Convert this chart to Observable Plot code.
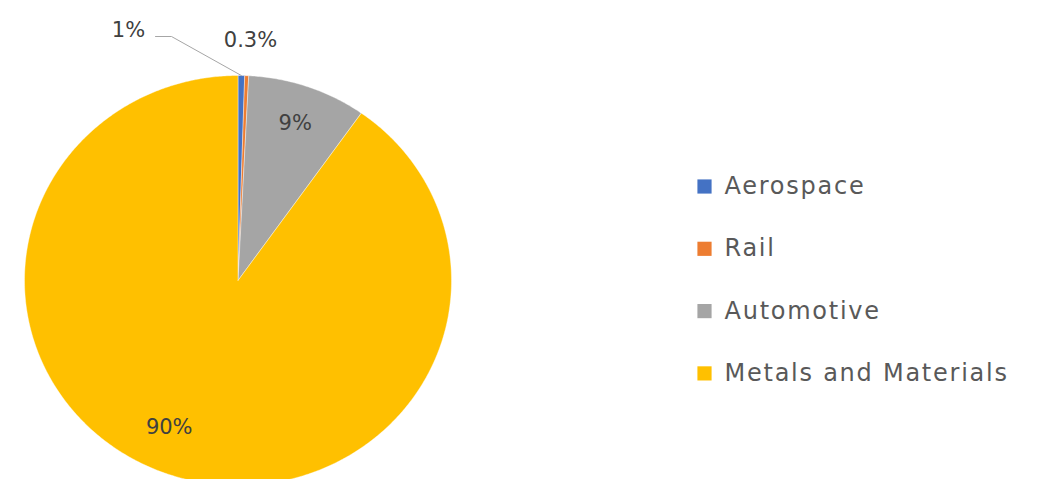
<!DOCTYPE html>
<html>
<head>
<meta charset="utf-8">
<script src="https://cdn.jsdelivr.net/npm/d3@7"></script>
<script src="https://cdn.jsdelivr.net/npm/@observablehq/plot@0.6"></script>
<style>
  html, body { margin: 0; padding: 0; background: #fff; }
  #chart svg { display: block; }
</style>
</head>
<body>
<div id="chart"></div>
<script>
// ---- data ----
const categories = ["Aerospace", "Rail", "Automotive", "Metals and Materials"];
const shares = [0.5, 0.3, 9.0, 90.2];
const labels = ["1%", "0.3%", "9%", "90%"];
const colors = ["#4472C4", "#ED7D31", "#A5A5A5", "#FFC000"];

// ---- layout ----
const W = 1038, H = 479;
const cx = 237.5, cy = 280, rx = 213.5, ry = 205; // pie placement in pixels

const total = d3.sum(shares);
let cum = 0;
const slices = categories.map((c, i) => {
  const a0 = cum / total * 2 * Math.PI;
  cum += shares[i];
  const a1 = cum / total * 2 * Math.PI;
  return {cat: c, a0, a1, mid: (a0 + a1) / 2, label: labels[i], i};
});

// polygon points of each slice, in unit-radius coordinates
const pts = [];
for (const s of slices) {
  const n = Math.max(2, Math.ceil((s.a1 - s.a0) * 180 / Math.PI * 2));
  pts.push({cat: s.cat, x: 0, y: 0});
  for (let k = 0; k <= n; k++) {
    const a = s.a0 + (s.a1 - s.a0) * k / n;
    pts.push({cat: s.cat, x: Math.sin(a), y: Math.cos(a)});
  }
  pts.push({cat: s.cat, x: 0, y: 0});
}

// data labels
const insideAt = (s, r) => ({x: r * Math.sin(s.mid), y: r * Math.cos(s.mid), label: s.label});
const autoLabel = [insideAt(slices[2], 0.82)];
const metalLabel = [insideAt(slices[3], 0.8)];
const px = (p) => (p - cx) / rx;   // pixel -> unit helpers for outside label placement
const py = (p) => (cy - p) / ry;
const outside = [
  {x: px(128), y: py(30), label: slices[0].label},
  {x: px(250), y: py(40), label: slices[1].label}
];
const aero = slices[0];
const leader = [
  {x: Math.sin(aero.mid), y: Math.cos(aero.mid)},
  {x: px(171), y: py(36)},
  {x: px(155), y: py(36)}
];

// legend
const legend = categories.map((c, i) => ({cat: c, y: py(186 + i * 62.3)}));

const chart = Plot.plot({
  width: W,
  height: H,
  margin: 0,
  x: {type: "linear", domain: [px(0), px(W)], range: [0, W], axis: null},
  y: {type: "linear", domain: [py(H), py(0)], range: [H, 0], axis: null},
  color: {type: "ordinal", domain: categories, range: colors},
  style: {fontFamily: "'DejaVu Sans', sans-serif", background: "#fff"},
  marks: [
    Plot.line(pts, {x: "x", y: "y", z: "cat", fill: "cat", stroke: "white", strokeWidth: 0.4, curve: "linear"}),
    Plot.line(leader, {x: "x", y: "y", stroke: "#A6A6A6", strokeWidth: 1}),
    Plot.text(outside, {x: "x", y: "y", text: "label", fill: "#404040", fontSize: 21}),
    Plot.text(autoLabel, {x: "x", y: "y", text: "label", fill: "#404040", fontSize: 21, dy: 2}),
    Plot.text(metalLabel, {x: "x", y: "y", text: "label", fill: "#404040", fontSize: 21, dx: -17, dy: -10}),
    Plot.dot(legend, {x: px(704), y: "y", fill: "cat", symbol: "square", r: 8, stroke: null}),
    Plot.text(legend, {x: px(724), y: "y", text: "cat", textAnchor: "start", fill: "#595959", fontSize: 24})
  ]
});
document.getElementById("chart").appendChild(chart);
d3.select(chart).selectAll("text")
  .filter(function() { return categories.includes(this.textContent); })
  .attr("letter-spacing", "1.75")
  .style("letter-spacing", "1.75px");
</script>
</body>
</html>
